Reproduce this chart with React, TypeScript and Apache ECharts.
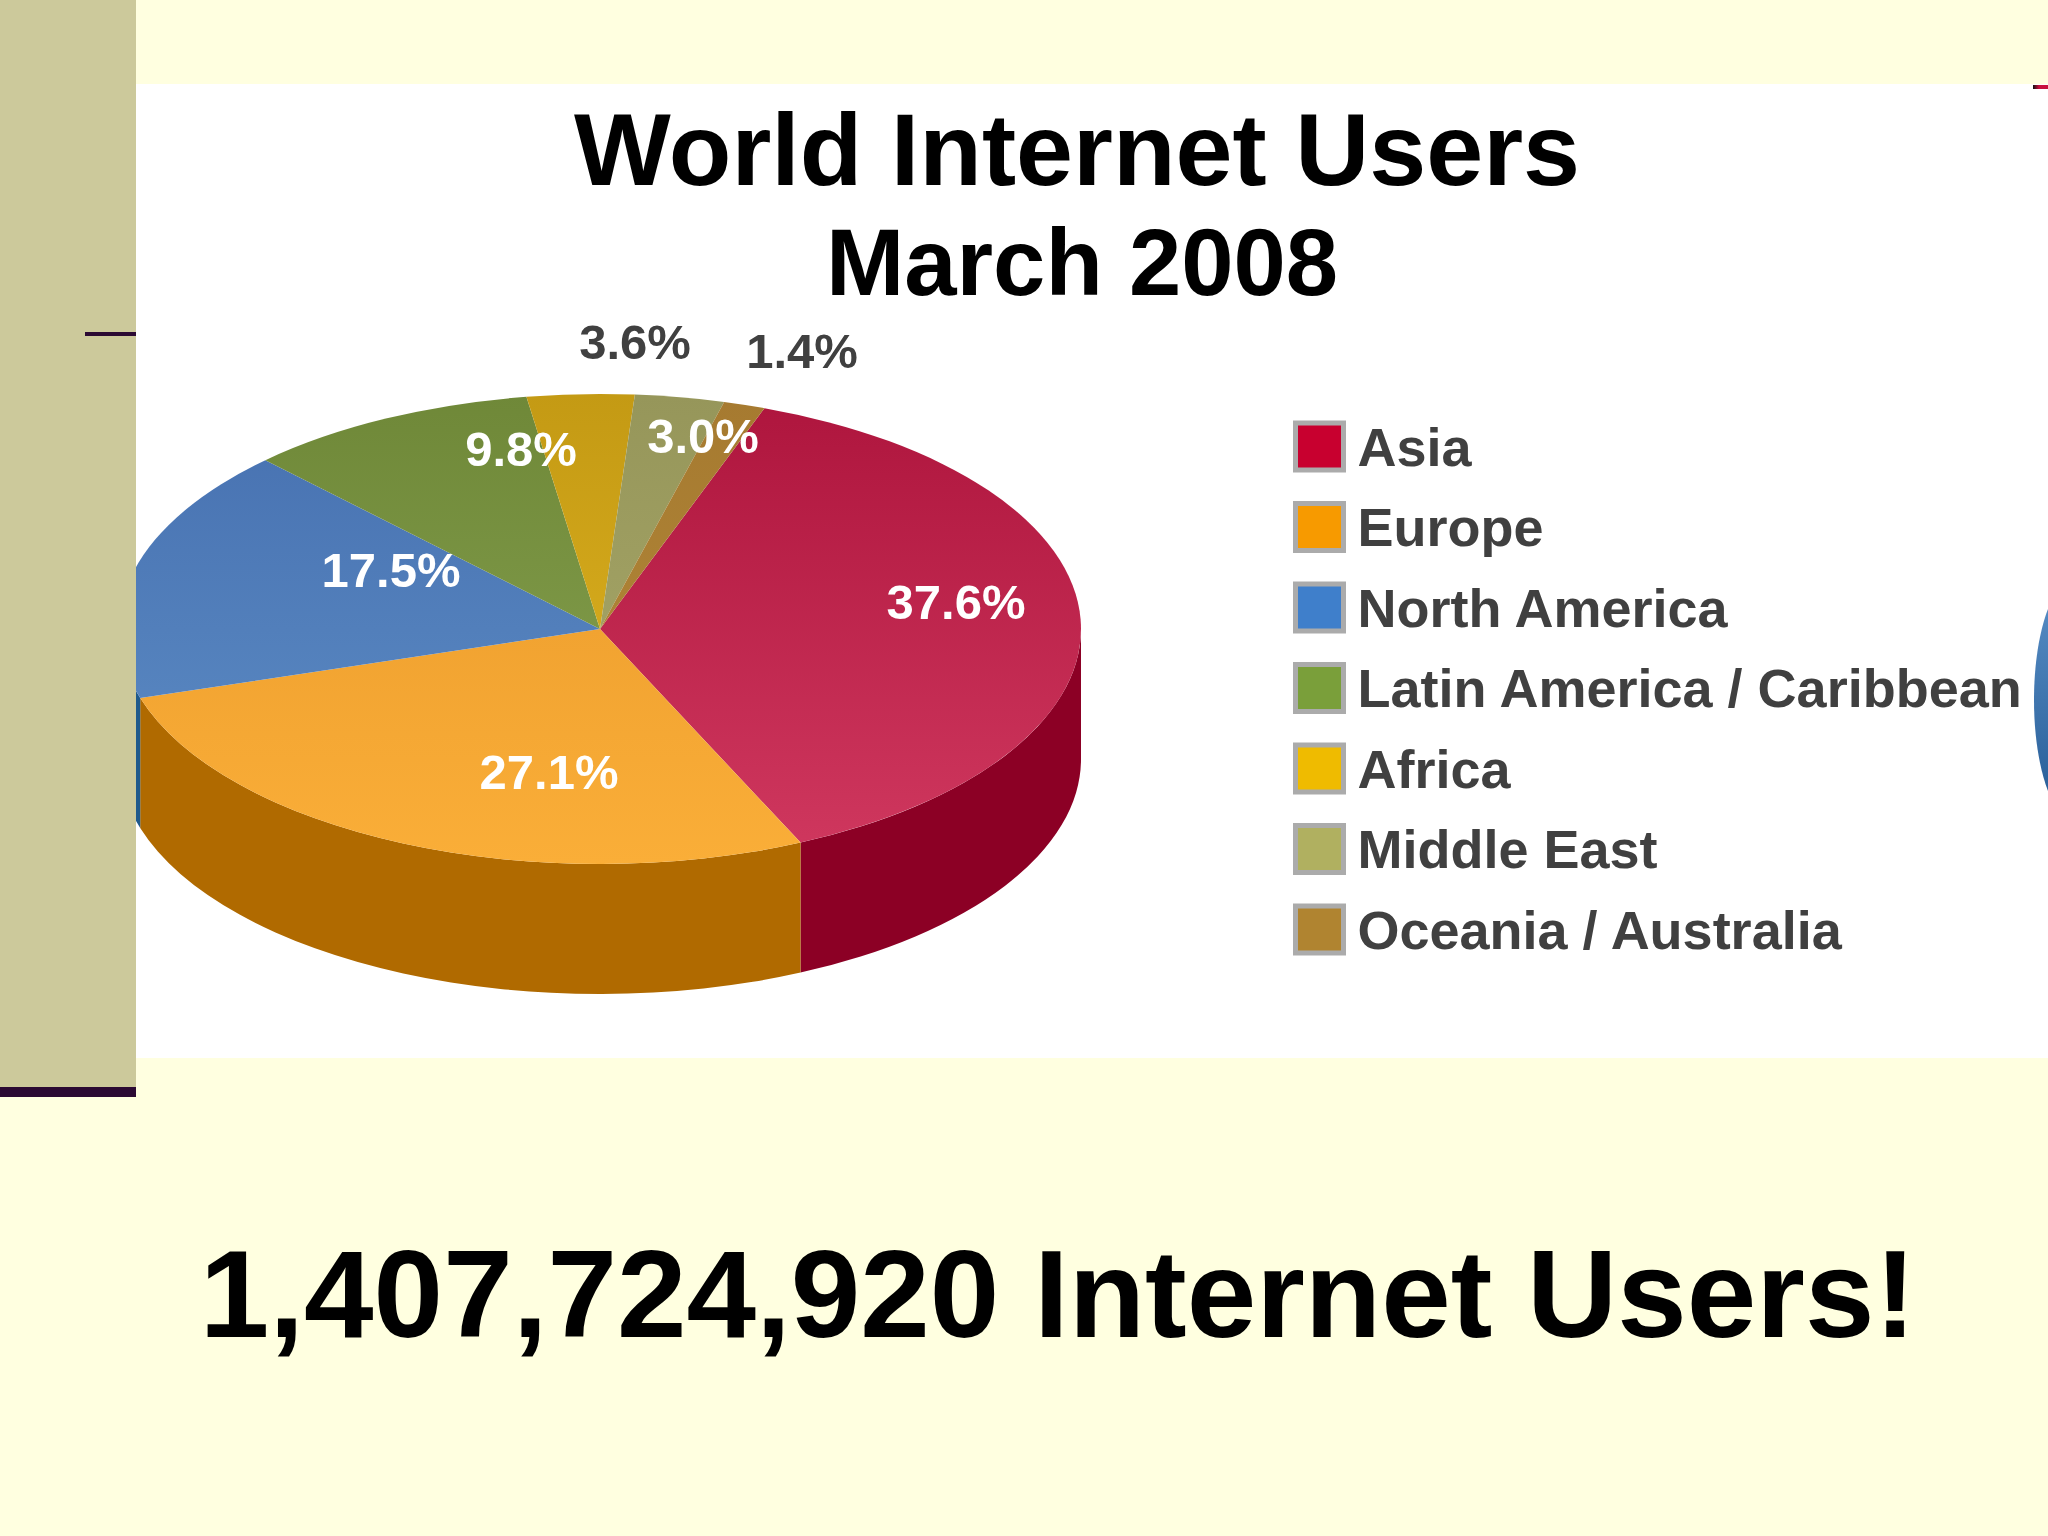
import React, { useEffect, useRef } from "react";
import * as echarts from "echarts";

const regions = ["Asia", "Europe", "North America", "Latin America / Caribbean", "Africa", "Middle East", "Oceania / Australia"];
const shares = [37.6, 27.1, 17.5, 9.8, 3.6, 3.0, 1.4];
const legendColors = ["#C8002F", "#F79A00", "#3F7FCB", "#7A9F3A", "#EFBB00", "#B0B060", "#B08430"];
const topColors = [
  ["#AE153D", "#D0385F"],
  ["#E8982A", "#FAAE38"],
  ["#4670B0", "#5E8EC6"],
  ["#6F8838", "#88A452"],
  ["#C49A14", "#E2B622"],
  ["#96965A", "#ABAB6C"],
  ["#A67A30", "#B48A3A"],
];
const wallColors = ["#8C0025", "#B06A00", "#1F5A8C", "#55702A", "#A08000", "#808050", "#806020"];
const labelCenters = [[956, 602], [549, 772], [391, 570], [521, 449], [635, 342], [703, 436], [802, 351]];
const insideLabelColor = "#FFFFFF";
const outsideLabelColor = "#404040";

const CX = 600, CY = 629, RX = 481, RY = 235, DEPTH = 130, START = 20;
const FONT = "'Liberation Sans', Arial, sans-serif";

const total = shares.reduce((a, b) => a + b, 0);
const rad = (d: number) => (d * Math.PI) / 180;
const pt = (a: number, dy = 0) => `${CX + RX * Math.sin(rad(a))} ${CY - RY * Math.cos(rad(a)) + dy}`;

function angleRange(i: number) {
  const before = shares.slice(0, i).reduce((a, b) => a + b, 0);
  const a0 = START + (before / total) * 360;
  return [a0, a0 + (shares[i] / total) * 360];
}

function makeRender(i: number) {
  return () => {
    const [a0, a1] = angleRange(i);
    const large = a1 - a0 > 180 ? 1 : 0;
    const children: any[] = [];
    const w0 = Math.max(a0, 90), w1 = Math.min(a1, 270);
    if (w1 > w0) {
      children.push({
        type: "path",
        shape: { pathData: `M${pt(w0)} A${RX} ${RY} 0 0 1 ${pt(w1)} L${pt(w1, DEPTH)} A${RX} ${RY} 0 0 0 ${pt(w0, DEPTH)} Z` },
        style: { fill: wallColors[i] },
      });
    }
    children.push({
      type: "path",
      shape: { pathData: `M${CX} ${CY} L${pt(a0)} A${RX} ${RY} 0 ${large} 1 ${pt(a1)} Z` },
      style: {
        fill: new echarts.graphic.LinearGradient(0, CY - RY, 0, CY + RY, [
          { offset: 0, color: topColors[i][0] },
          { offset: 1, color: topColors[i][1] },
        ], true),
      },
    });
    const outside = i === 4 || i === 6;
    children.push({
      type: "text",
      z2: 20,
      style: {
        text: `${shares[i].toFixed(1)}%`,
        x: labelCenters[i][0],
        y: labelCenters[i][1],
        align: "center",
        verticalAlign: "middle",
        fill: outside ? outsideLabelColor : insideLabelColor,
        fontSize: 49,
        fontWeight: "bold",
        fontFamily: FONT,
      },
    });
    return { type: "group", children };
  };
}

export default function App() {
  const ref = useRef<HTMLDivElement>(null);
  useEffect(() => {
    const chart = echarts.init(ref.current!, null, { renderer: "svg" });
    chart.setOption({
      animation: false,
      backgroundColor: "#FFFFE0",
      title: [
        { text: "World Internet Users", left: 1072, top: 93, textAlign: "center", textStyle: { fontFamily: FONT, fontWeight: "bold", fontSize: 102.5, color: "#000000" } },
        { text: "March 2008", left: 1077, top: 210, textAlign: "center", textStyle: { fontFamily: FONT, fontWeight: "bold", fontSize: 94, color: "#000000" } },
        { text: "1,407,724,920 Internet Users!", left: 1053, top: 1226, textAlign: "center", textStyle: { fontFamily: FONT, fontWeight: "bold", fontSize: 125, color: "#000000" } },
      ],
      legend: {
        orient: "vertical",
        left: 1293,
        top: 419.5,
        padding: 0,
        itemWidth: 48,
        itemHeight: 47,
        itemGap: 26.5,
        icon: "rect",
        itemStyle: { borderColor: "#ABABAB", borderWidth: 5 },
        selectedMode: false,
        textStyle: { fontFamily: FONT, fontWeight: "bold", fontSize: 54, color: "#404040", padding: [0, 0, 4, 9] },
        data: regions,
      },
      series: regions.map((name, i) => ({
        type: "custom",
        name,
        coordinateSystem: "none",
        silent: true,
        itemStyle: { color: legendColors[i] },
        data: [[shares[i]]],
        renderItem: makeRender(i),
      })),
      graphic: [
        { type: "rect", z: -10, silent: true, shape: { x: 136, y: 84, width: 1912, height: 974 }, style: { fill: "#FFFFFF" } },
        { type: "rect", z: 50, silent: true, shape: { x: 0, y: 0, width: 136, height: 1087 }, style: { fill: "#CCC99B" } },
        { type: "rect", z: 51, silent: true, shape: { x: 0, y: 1087, width: 136, height: 10 }, style: { fill: "#2B0A33" } },
        { type: "rect", z: 51, silent: true, shape: { x: 85, y: 332, width: 51, height: 4 }, style: { fill: "#2B0A33" } },
        {
          type: "rect", z: 51, silent: true, shape: { x: 2033, y: 85, width: 15, height: 4 },
          style: { fill: new echarts.graphic.LinearGradient(0, 0, 1, 0, [{ offset: 0, color: "#111111" }, { offset: 0.4, color: "#C8103F" }, { offset: 1, color: "#C8103F" }]) },
        },
        {
          type: "ellipse", z: 51, silent: true, shape: { cx: 2076, cy: 700, rx: 42, ry: 122 },
          style: { fill: new echarts.graphic.LinearGradient(0, 0, 0, 1, [{ offset: 0, color: "#5A90C8" }, { offset: 1, color: "#245A94" }]) },
        },
      ],
    });
    return () => chart.dispose();
  }, []);
  return <div ref={ref} style={{ position: "fixed", left: 0, top: 0, width: 2048, height: 1536 }} />;
}
